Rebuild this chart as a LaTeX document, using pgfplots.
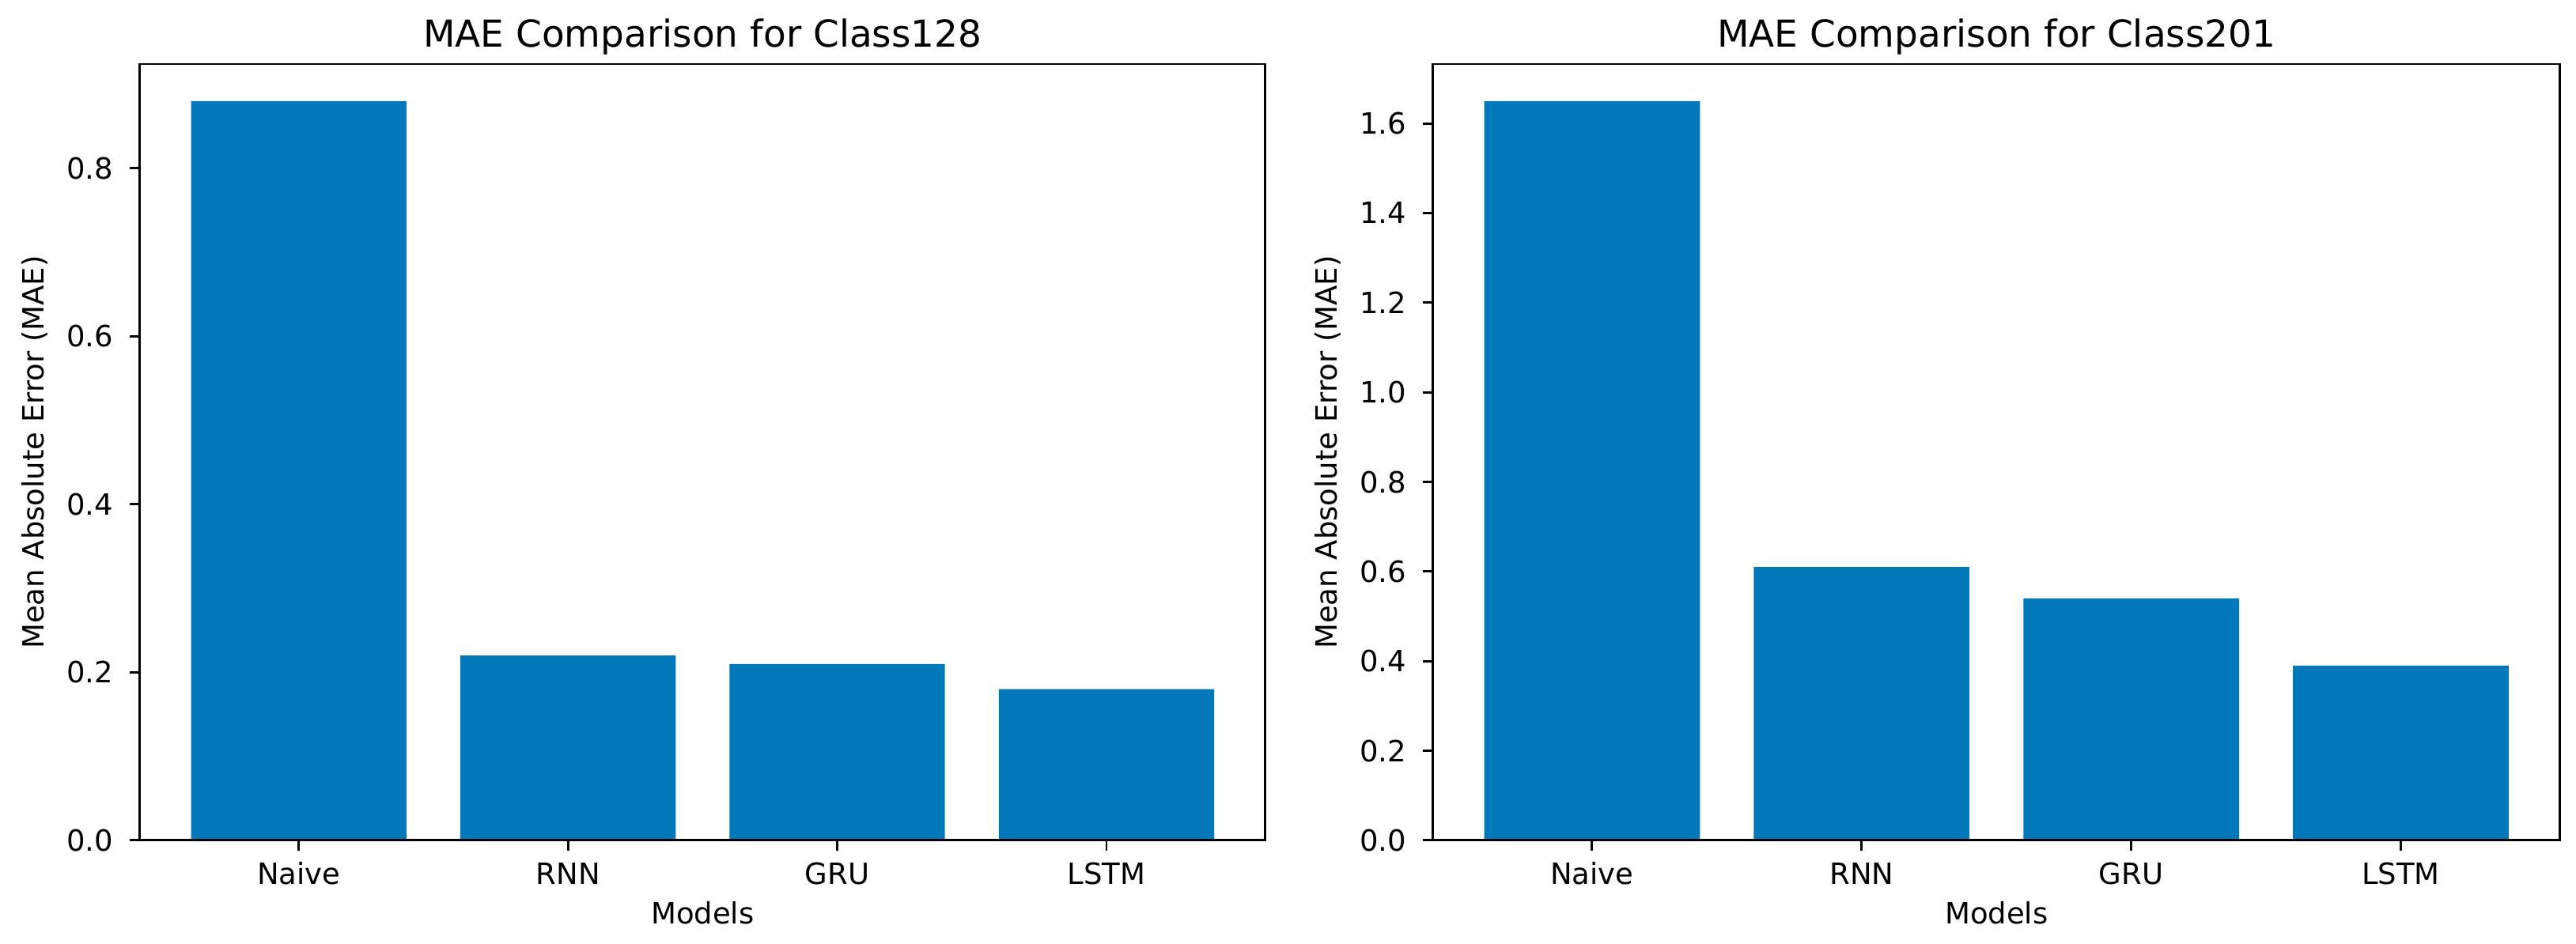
\documentclass[border=0pt]{standalone}
\usepackage{fontspec}
\setmainfont{DejaVu Sans}
\usepackage{pgfplots}
\pgfplotsset{compat=1.18}
\definecolor{barblue}{RGB}{0,120,186}
\pgfplotsset{maestyle/.style={
  scale only axis, width=384.6pt, height=265.4pt,
  anchor=south west,
  xmin=-0.59, xmax=3.59, ymin=0,
  xtick={0,1,2,3}, xticklabels={Naive,RNN,GRU,LSTM},
  tick align=outside, major tick length=3.6pt,
  xtick pos=left, ytick pos=left,
  every tick/.style={black, line width=0.8pt},
  axis line style={line width=0.8pt},
  axis on top=true,
  font=\fontsize{10}{12}\selectfont,
  yticklabel style={anchor=east, inner sep=0pt, xshift=-5.3pt,
    /pgf/number format/fixed, /pgf/number format/fixed zerofill,
    /pgf/number format/precision=1, /pgf/number format/assume math mode=true},
  xticklabel style={anchor=base, inner sep=0pt, yshift=-11.3pt},
  every axis title/.style={at={(axis description cs:0.5,1)}, anchor=base, yshift=5.9pt, font=\fontsize{12.7}{15}\selectfont},
  xlabel style={at={([yshift=-28.4pt]axis description cs:0.5,0)}, anchor=base},
  ylabel style={at={([xshift=-32.7pt]axis description cs:0,0.5)}, anchor=base},
  xlabel={Models}, ylabel={Mean Absolute Error (MAE)},
}}
\begin{document}
\begin{tikzpicture}
\path[use as bounding box] (0,0) rectangle (880.3pt,322.7pt);
\begin{axis}[maestyle, at={(47.8pt,35.4pt)}, ymax=0.924,
  ytick={0,0.2,0.4,0.6,0.8},
  title={MAE Comparison for Class128}]
\addplot[ybar, bar width=0.8, bar shift=0pt, fill=barblue, draw=none]
  coordinates {(0,0.88) (1,0.22) (2,0.21) (3,0.18)};
\end{axis}
\begin{axis}[maestyle, at={(489.7pt,35.4pt)}, width=385.1pt, ymax=1.7325,
  ytick={0,0.2,0.4,0.6,0.8,1.0,1.2,1.4,1.6},
  title={MAE Comparison for Class201}]
\addplot[ybar, bar width=0.8, bar shift=0pt, fill=barblue, draw=none]
  coordinates {(0,1.65) (1,0.61) (2,0.54) (3,0.39)};
\end{axis}
\end{tikzpicture}
\end{document}
